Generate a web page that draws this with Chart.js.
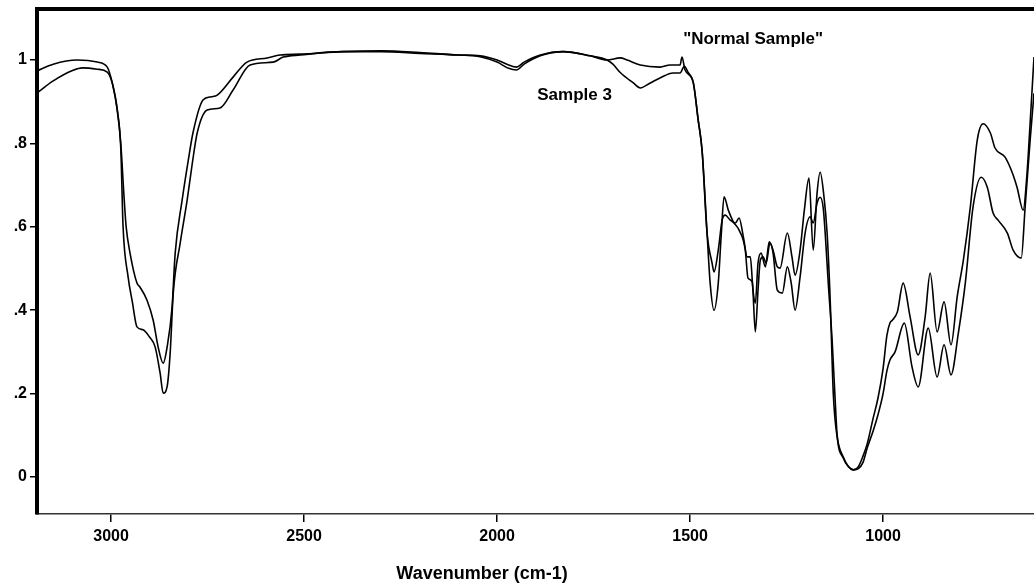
<!DOCTYPE html>
<html>
<head>
<meta charset="utf-8">
<script src="https://cdn.jsdelivr.net/npm/chart.js@4.4.0/dist/chart.umd.min.js"></script>
<style>
body { margin: 0; background: #fff; }
</style>
</head>
<body>
<canvas id="myChart" width="1034" height="586"></canvas>
<script>
// wavenumbers (cm-1) and absorbance
const normalWave = [3192, 3150, 3088, 3036, 3010, 2997, 2984, 2975, 2966, 2961, 2951, 2933, 2925, 2907, 2891, 2878, 2865, 2855, 2842, 2834,
  2816, 2800, 2788, 2762, 2740, 2725, 2684, 2648, 2596, 2562, 2510, 2400, 2300, 2200, 2100, 2044, 2000, 1970, 1950, 1930,
  1888, 1829, 1759, 1715, 1681, 1663, 1629, 1578, 1552, 1526, 1521, 1513, 1492, 1479, 1469, 1456, 1443, 1438, 1427, 1417,
  1409, 1396, 1383, 1373, 1362, 1352, 1344, 1337, 1331, 1324, 1316, 1305, 1295, 1285, 1274, 1267, 1248, 1236, 1228, 1215,
  1204, 1192, 1181, 1171, 1163, 1153, 1145, 1137, 1129, 1119, 1103, 1090, 1077, 1064, 1052, 1041, 1026, 1013, 1000, 990,
  982, 976, 963, 948, 930, 909, 891, 878, 860, 842, 824, 808, 792, 774, 756, 741, 722, 710, 684, 665,
  653, 637, 627, 619, 609];
const normalAbs = [0.974, 0.99, 1.0, 0.995, 0.983, 0.945, 0.88, 0.8, 0.664, 0.6, 0.537, 0.465, 0.455, 0.424, 0.376, 0.311, 0.273, 0.311, 0.408, 0.537,
  0.664, 0.76, 0.825, 0.904, 0.912, 0.916, 0.959, 0.995, 1.005, 1.012, 1.014, 1.02, 1.022, 1.018, 1.012, 1.01, 1.0, 0.988, 0.983, 0.995,
  1.012, 1.02, 1.01, 1.0, 1.005, 1.0, 0.988, 0.983, 0.988, 0.988, 1.007, 0.976, 0.947, 0.856, 0.784, 0.585, 0.513, 0.492, 0.544, 0.616,
  0.628, 0.616, 0.609, 0.621, 0.576, 0.528, 0.528, 0.448, 0.417, 0.513, 0.537, 0.504, 0.564, 0.544, 0.504, 0.501, 0.585, 0.528, 0.484, 0.544,
  0.64, 0.717, 0.544, 0.681, 0.731, 0.671, 0.585, 0.424, 0.2, 0.096, 0.048, 0.025, 0.017, 0.025, 0.05, 0.08, 0.14, 0.19, 0.26, 0.34,
  0.37, 0.376, 0.396, 0.465, 0.384, 0.293, 0.384, 0.489, 0.348, 0.42, 0.317, 0.432, 0.52, 0.647, 0.808, 0.847, 0.825, 0.789, 0.767, 0.729,
  0.695, 0.64, 0.729, 0.849, 1.007];

const sample3Wave = [3192, 3150, 3100, 3073, 3036, 3010, 2997, 2984, 2975, 2969, 2956, 2945, 2933, 2917, 2900, 2886, 2873, 2865, 2855, 2847,
  2839, 2821, 2803, 2790, 2777, 2751, 2718, 2684, 2640, 2580, 2554, 2510, 2400, 2300, 2200, 2100, 2044, 2000, 1970, 1950,
  1930, 1888, 1829, 1759, 1715, 1700, 1681, 1647, 1629, 1603, 1578, 1544, 1526, 1515, 1505, 1492, 1479, 1469, 1456, 1448,
  1438, 1427, 1419, 1412, 1401, 1388, 1373, 1357, 1350, 1339, 1331, 1324, 1318, 1311, 1303, 1293, 1285, 1274, 1261, 1248,
  1238, 1228, 1215, 1202, 1189, 1181, 1171, 1163, 1155, 1150, 1142, 1132, 1125, 1119, 1103, 1090, 1077, 1064, 1052, 1041,
  1026, 1013, 1000, 990, 982, 969, 945, 925, 909, 883, 860, 842, 824, 805, 787, 767, 746, 730, 715, 702,
  678, 663, 642, 632, 619, 609];
const sample3Abs = [0.921, 0.95, 0.975, 0.981, 0.978, 0.971, 0.945, 0.88, 0.79, 0.6, 0.48, 0.42, 0.36, 0.353, 0.335, 0.312, 0.249, 0.201, 0.216, 0.297,
  0.441, 0.561, 0.664, 0.75, 0.825, 0.88, 0.885, 0.928, 0.988, 0.995, 1.007, 1.012, 1.02, 1.02, 1.016, 1.012, 1.008, 0.995, 0.98, 0.976,
  0.99, 1.01, 1.02, 1.01, 1.0, 0.99, 0.97, 0.945, 0.933, 0.945, 0.957, 0.969, 0.969, 0.985, 0.97, 0.947, 0.856, 0.784, 0.585, 0.465,
  0.4, 0.465, 0.585, 0.672, 0.64, 0.612, 0.592, 0.544, 0.477, 0.468, 0.348, 0.448, 0.52, 0.528, 0.513, 0.561, 0.537, 0.448, 0.441, 0.504,
  0.465, 0.4, 0.48, 0.585, 0.624, 0.609, 0.657, 0.671, 0.645, 0.585, 0.465, 0.328, 0.2, 0.1, 0.045, 0.025, 0.017, 0.02, 0.035, 0.07,
  0.11, 0.15, 0.2, 0.255, 0.281, 0.3, 0.369, 0.264, 0.216, 0.357, 0.24, 0.317, 0.245, 0.345, 0.465, 0.647, 0.719, 0.695, 0.633, 0.616,
  0.585, 0.544, 0.525, 0.647, 0.808, 0.92];

const xTicks = [3000, 2500, 2000, 1500, 1000];
const yTicks = [0, 0.2, 0.4, 0.6, 0.8, 1];
const yTickLabels = ['0', '.2', '.4', '.6', '.8', '1'];
const seriesNames = ['"Normal Sample"', 'Sample 3'];
const xTitle = 'Wavenumber (cm-1)';

// where the two curve names are written (wavenumber, absorbance of the text's left/middle)
const labelWave = [1518, 1896];
const labelAbs = [1.05, 0.916];

const FONT = "'Liberation Sans', Arial, sans-serif";

function toPoints(xs, ys) {
  return xs.map((x, i) => ({ x: x, y: ys[i] }));
}

// top frame line, curve names and the axis title (sits left of the plot centre)
const frameAndLabels = {
  id: 'frameAndLabels',
  afterDraw(chart) {
    const ctx = chart.ctx;
    const area = chart.chartArea;
    ctx.save();
    ctx.strokeStyle = '#000';
    ctx.lineWidth = 4;
    ctx.beginPath();
    ctx.moveTo(area.left - 2, area.top);
    ctx.lineTo(area.right, area.top);
    ctx.stroke();

    ctx.fillStyle = '#000';
    ctx.font = 'bold 17px ' + FONT;
    ctx.textBaseline = 'middle';
    ctx.textAlign = 'left';
    for (let i = 0; i < seriesNames.length; i++) {
      const px = chart.scales.x.getPixelForValue(labelWave[i]);
      const py = chart.scales.y.getPixelForValue(labelAbs[i]);
      ctx.fillText(seriesNames[i], px, py);
    }

    ctx.font = 'bold 18px ' + FONT;
    ctx.textAlign = 'center';
    ctx.fillText(xTitle, 482, 574);
    ctx.restore();
  }
};

const myChart = document.getElementById('myChart');

let spectrum = new Chart(myChart, {
  type: 'line',
  data: {
    datasets: [
      {
        label: seriesNames[0],
        data: toPoints(normalWave, normalAbs),
        borderColor: '#000',
        borderWidth: 1.6,
        pointRadius: 0,
        fill: false,
        cubicInterpolationMode: 'monotone'
      },
      {
        label: seriesNames[1],
        data: toPoints(sample3Wave, sample3Abs),
        borderColor: '#000',
        borderWidth: 1.6,
        pointRadius: 0,
        fill: false,
        cubicInterpolationMode: 'monotone'
      }
    ]
  },
  options: {
    responsive: false,
    animation: false,
    devicePixelRatio: 1,
    layout: { padding: { top: 9, left: 0, right: 0, bottom: 0 } },
    plugins: {
      legend: { display: false },
      tooltip: { enabled: false }
    },
    scales: {
      x: {
        type: 'linear',
        reverse: true,
        min: 609,
        max: 3192,
        afterBuildTicks: s => { s.ticks = xTicks.map(v => ({ value: v })); },
        afterFit: s => { s.height = 72; s.paddingLeft = 0; s.paddingRight = 0; },
        grid: { drawOnChartArea: false, drawTicks: true, tickLength: 8, color: '#000', lineWidth: 1.5 },
        border: { display: true, color: '#333', width: 1.5 },
        ticks: {
          color: '#000',
          padding: 5,
          maxRotation: 0,
          autoSkip: false,
          font: { family: FONT, size: 16, weight: 'bold' },
          callback: (v, i) => String(xTicks[i])
        },
        title: { display: false }
      },
      y: {
        min: -0.0887,
        max: 1.1223,
        afterBuildTicks: s => { s.ticks = yTicks.map(v => ({ value: v })); },
        afterFit: s => { s.width = 37; s.paddingTop = 0; s.paddingBottom = 0; },
        grid: { drawOnChartArea: false, drawTicks: true, tickLength: 7, color: '#000', lineWidth: 1.5 },
        border: { display: true, color: '#000', width: 4 },
        ticks: {
          color: '#000',
          padding: 3,
          autoSkip: false,
          font: { family: FONT, size: 16, weight: 'bold' },
          callback: (v, i) => yTickLabels[i]
        }
      }
    }
  },
  plugins: [frameAndLabels]
});
</script>
</body>
</html>
